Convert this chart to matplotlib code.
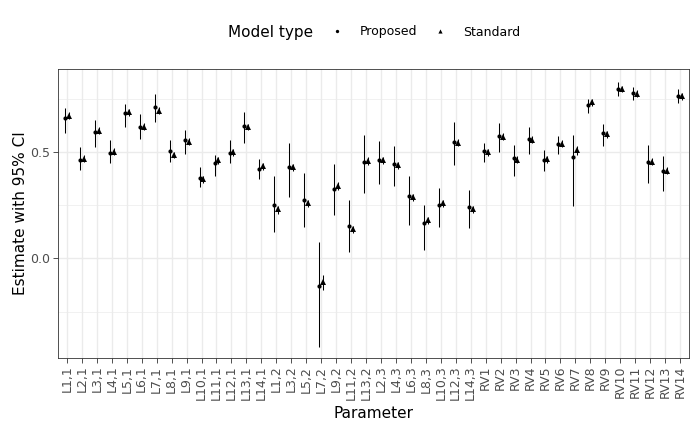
import matplotlib
matplotlib.use("Agg")
import matplotlib.pyplot as plt
from matplotlib.lines import Line2D
import numpy as np

cats = ["L1,1", "L2,1", "L3,1", "L4,1", "L5,1", "L6,1", "L7,1", "L8,1", "L9,1", "L10,1",
        "L11,1", "L12,1", "L13,1", "L14,1",
        "L1,2", "L3,2", "L5,2", "L7,2", "L9,2", "L11,2", "L13,2",
        "L2,3", "L4,3", "L6,3", "L8,3", "L10,3", "L12,3", "L14,3",
        "RV1", "RV2", "RV3", "RV4", "RV5", "RV6", "RV7", "RV8", "RV9", "RV10",
        "RV11", "RV12", "RV13", "RV14"]

# Proposed model: estimate and 95% CI
prop_est = [0.660, 0.464, 0.596, 0.495, 0.683, 0.616, 0.713, 0.505, 0.556, 0.378, 0.447, 0.498, 0.622, 0.422,
            0.251, 0.428, 0.273, -0.130, 0.328, 0.152, 0.453,
            0.462, 0.444, 0.295, 0.168, 0.252, 0.549, 0.243,
            0.505, 0.578, 0.472, 0.563, 0.464, 0.536, 0.478, 0.721, 0.589, 0.796, 0.779, 0.456, 0.412, 0.766]
prop_lo = [0.592, 0.417, 0.522, 0.448, 0.618, 0.564, 0.644, 0.456, 0.489, 0.334, 0.389, 0.448, 0.545, 0.376,
           0.124, 0.288, 0.150, -0.414, 0.204, 0.030, 0.310,
           0.348, 0.339, 0.157, 0.041, 0.149, 0.440, 0.143,
           0.456, 0.503, 0.386, 0.492, 0.412, 0.489, 0.248, 0.683, 0.528, 0.762, 0.746, 0.353, 0.315, 0.730]
prop_hi = [0.707, 0.524, 0.652, 0.555, 0.727, 0.680, 0.774, 0.558, 0.605, 0.428, 0.487, 0.558, 0.687, 0.470,
           0.387, 0.545, 0.400, 0.077, 0.445, 0.276, 0.580,
           0.552, 0.528, 0.386, 0.251, 0.332, 0.643, 0.323,
           0.545, 0.639, 0.534, 0.616, 0.508, 0.577, 0.582, 0.751, 0.633, 0.828, 0.806, 0.533, 0.481, 0.796]

# Standard model
std_est = [0.672, 0.469, 0.599, 0.503, 0.687, 0.619, 0.694, 0.487, 0.549, 0.373, 0.461, 0.500, 0.618, 0.433,
           0.232, 0.429, 0.260, -0.111, 0.342, 0.138, 0.458,
           0.462, 0.439, 0.287, 0.179, 0.260, 0.545, 0.232,
           0.500, 0.572, 0.464, 0.558, 0.466, 0.539, 0.508, 0.734, 0.583, 0.796, 0.773, 0.456, 0.412, 0.762]
std_lo = [0.655, 0.452, 0.583, 0.487, 0.672, 0.603, 0.678, 0.471, 0.533, 0.357, 0.445, 0.484, 0.602, 0.417,
          0.210, 0.412, 0.243, -0.148, 0.324, 0.120, 0.441,
          0.445, 0.422, 0.270, 0.161, 0.243, 0.528, 0.215,
          0.484, 0.556, 0.448, 0.542, 0.450, 0.523, 0.487, 0.718, 0.567, 0.781, 0.757, 0.440, 0.396, 0.746]
std_hi = [0.688, 0.486, 0.616, 0.519, 0.703, 0.636, 0.711, 0.503, 0.566, 0.389, 0.478, 0.516, 0.634, 0.449,
          0.247, 0.446, 0.276, -0.078, 0.360, 0.155, 0.475,
          0.478, 0.456, 0.304, 0.196, 0.277, 0.562, 0.249,
          0.516, 0.589, 0.481, 0.575, 0.482, 0.556, 0.527, 0.751, 0.600, 0.812, 0.790, 0.473, 0.429, 0.779]

plt.rcParams['font.family'] = ['DejaVu Sans']

fig = plt.figure(figsize=(6.92, 4.23), dpi=100)
ax = fig.add_axes([58 / 692, 1 - 358 / 423, 631 / 692, 289 / 423])

x = np.arange(len(cats))
dodge = 0.13

ax.vlines(x - dodge, prop_lo, prop_hi, color='black', lw=0.75, zorder=3)
ax.plot(x - dodge, prop_est, 'o', color='black', ms=3.0, mew=0, zorder=4)
ax.vlines(x + dodge, std_lo, std_hi, color='black', lw=0.75, zorder=3)
ax.plot(x + dodge, std_est, '^', color='black', ms=3.8, mew=0, zorder=4)

ax.set_xlim(-0.6, len(cats) - 0.4)
ax.set_ylim(-0.468, 0.891)
ax.set_xticks(x)
ax.set_xticklabels(cats, rotation=90, fontsize=9, color='#4D4D4D')
ax.set_yticks([0.0, 0.5])
ax.set_yticklabels(['0.0', '0.5'], fontsize=9, color='#4D4D4D')
ax.set_yticks([-0.25, 0.25, 0.75], minor=True)
ax.tick_params(axis='both', which='major', length=3.5, width=0.6, color='#333333', pad=2)
ax.tick_params(axis='y', which='minor', length=0)

ax.grid(True, which='major', color='#EBEBEB', lw=1.0, zorder=0)
ax.grid(True, which='minor', axis='y', color='#EBEBEB', lw=0.5, zorder=0)
ax.set_axisbelow(True)
for s in ax.spines.values():
    s.set_color('#333333')
    s.set_linewidth(0.6)

ax.set_xlabel('Parameter', fontsize=11, labelpad=4)
ax.set_ylabel('Estimate with 95% CI', fontsize=11, labelpad=2)

# legend across the top
fig.text(228 / 692, 1 - 32 / 423, 'Model type', fontsize=11, va='center', ha='left')
handles = [Line2D([], [], ls='none', marker='o', color='black', ms=2.4, mew=0),
           Line2D([], [], ls='none', marker='^', color='black', ms=3.0, mew=0)]
fig.legend(handles, ['Proposed', 'Standard'], ncol=2, loc='center left',
           bbox_to_anchor=(331 / 692, 1 - 32 / 423), frameon=False, fontsize=9,
           handlelength=1.0, handletextpad=1.3, columnspacing=1.34,
           borderpad=0, borderaxespad=0)

fig.savefig('out.png', dpi=100)
